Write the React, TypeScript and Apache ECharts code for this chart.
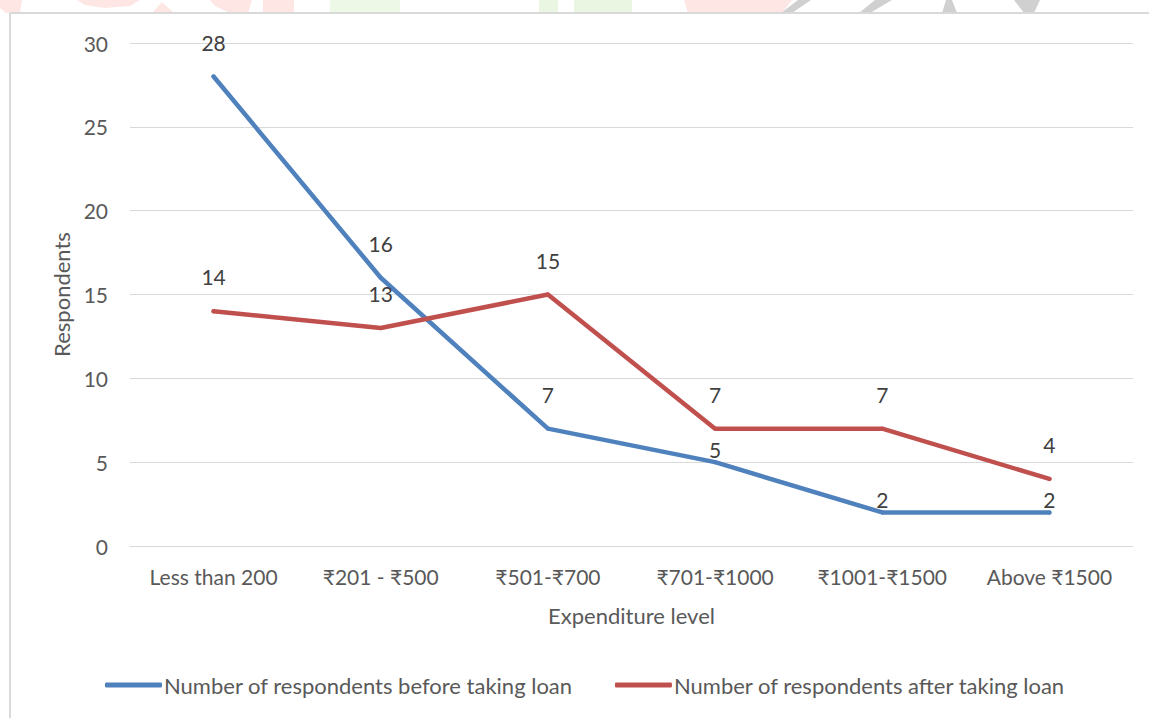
import React, { useEffect, useRef } from "react";
import * as echarts from "echarts";

const categories = ["Less than 200", "₹201 - ₹500", "₹501-₹700", "₹701-₹1000", "₹1001-₹1500", "Above ₹1500"];
const beforeLoan = [28, 16, 7, 5, 2, 2];
const afterLoan = [14, 13, 15, 7, 7, 4];
const beforeLabelDistance = [22, 22, 22, 0, 0, 0];
const afterLabelDistance = [22, 22, 22, 22, 22, 22];
const seriesNames = ["Number of respondents before taking loan", "Number of respondents after taking loan"];

const FONT = "Lato, 'Noto Sans', sans-serif";

export default function App() {
  const ref = useRef<HTMLDivElement>(null);
  useEffect(() => {
    const chart = echarts.init(ref.current!, null, { renderer: "svg" });
    const wm = (pts: number[][], fill: string) => ({ type: "polygon", shape: { points: pts }, style: { fill }, silent: true });
    const labelCfg = { show: true, position: "top", fontSize: 21, color: "#404040", fontFamily: FONT };
    chart.setOption({
      animation: false,
      backgroundColor: "#ffffff",
      textStyle: { fontFamily: FONT },
      graphic: [
        wm([[0, 0], [22, 0], [20, 13], [6, 13], [0, 8]], "#fde6e4"),
        wm([[77, 0], [140, 0], [130, 6], [105, 8], [85, 5]], "#fde6e4"),
        wm([[152, 13], [162, 2], [174, 13]], "#fde6e4"),
        wm([[210, 0], [252, 0], [248, 13], [230, 13], [215, 6]], "#fde6e4"),
        wm([[263, 0], [294, 0], [294, 13], [263, 13]], "#fde6e4"),
        wm([[330, 0], [400, 0], [400, 13], [330, 13]], "#eef8e6"),
        wm([[539, 0], [558, 0], [558, 13], [539, 13]], "#eaf6e2"),
        wm([[574, 0], [632, 0], [632, 13], [574, 13]], "#eaf6e2"),
        wm([[684, 0], [792, 0], [782, 13], [688, 13]], "#fde6e4"),
        wm([[798, 0], [811, 0], [792, 13], [781, 13]], "#d0d0d0"),
        wm([[875, 0], [892, 0], [870, 13], [859, 13]], "#d0d0d0"),
        wm([[946, 0], [952, 0], [957, 13], [942, 13]], "#d0d0d0"),
        wm([[1014, 0], [1040, 0], [1034, 13], [1024, 13]], "#d0d0d0"),
        { type: "line", shape: { x1: 10, y1: 13, x2: 1149, y2: 13 }, style: { stroke: "#d9d9d9", lineWidth: 2 }, silent: true },
        { type: "line", shape: { x1: 10, y1: 13, x2: 10, y2: 718 }, style: { stroke: "#d9d9d9", lineWidth: 2 }, silent: true },
      ],
      grid: { left: 130, right: 16, top: 43, bottom: 172 },
      legend: {
        bottom: 17,
        left: 100,
        itemGap: 42,
        itemWidth: 57,
        itemHeight: 5,
        icon: "roundRect",
        textStyle: { fontSize: 22, color: "#595959", fontFamily: FONT, padding: [0, 0, 0, -3] },
        data: seriesNames,
      },
      xAxis: {
        type: "category",
        data: categories,
        boundaryGap: true,
        name: "Expenditure level",
        nameLocation: "middle",
        nameGap: 58,
        nameTextStyle: { fontSize: 22, color: "#595959", fontFamily: FONT },
        axisLine: { show: true, lineStyle: { color: "#d9d9d9", width: 1 } },
        axisTick: { show: false },
        axisLabel: { fontSize: 21, color: "#595959", margin: 20, fontFamily: FONT, interval: 0 },
      },
      yAxis: {
        type: "value",
        min: 0,
        max: 30,
        interval: 5,
        name: "Respondents",
        nameLocation: "middle",
        nameGap: 55,
        nameRotate: 90,
        nameTextStyle: { fontSize: 22, color: "#595959", fontFamily: FONT },
        axisLine: { show: false },
        axisTick: { show: false },
        axisLabel: { fontSize: 21, color: "#595959", margin: 22, fontFamily: FONT },
        splitLine: { lineStyle: { color: "#d9d9d9", width: 1 } },
      },
      series: [
        {
          name: seriesNames[0],
          type: "line",
          data: beforeLoan.map((v, i) => ({ value: v, label: { distance: beforeLabelDistance[i] } })),
          showSymbol: true,
          symbol: "circle",
          symbolSize: 4,
          lineStyle: { color: "#4f81bd", width: 4.5, cap: "round", join: "round" },
          itemStyle: { color: "#4f81bd", borderWidth: 0 },
          label: labelCfg,
        },
        {
          name: seriesNames[1],
          type: "line",
          data: afterLoan.map((v, i) => ({ value: v, label: { distance: afterLabelDistance[i] } })),
          showSymbol: true,
          symbol: "circle",
          symbolSize: 4,
          lineStyle: { color: "#c0504d", width: 4.5, cap: "round", join: "round" },
          itemStyle: { color: "#c0504d", borderWidth: 0 },
          label: labelCfg,
        },
      ],
    });
    return () => chart.dispose();
  }, []);
  return <div ref={ref} style={{ position: "absolute", left: 0, top: 0, width: 1149, height: 718 }} />;
}
